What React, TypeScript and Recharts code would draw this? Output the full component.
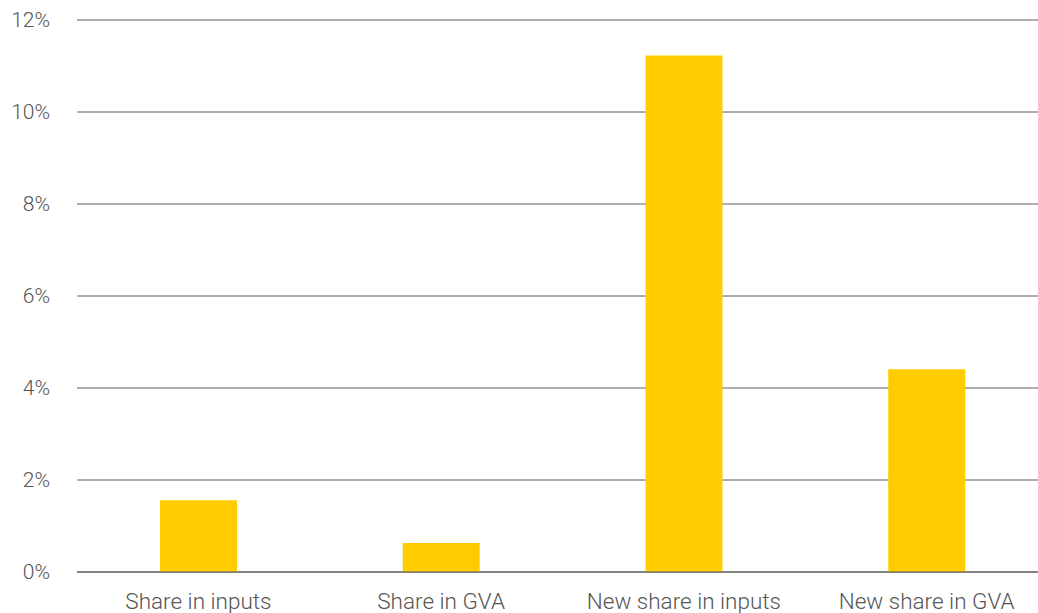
import { BarChart, Bar, CartesianGrid, XAxis, YAxis, ReferenceLine } from "recharts";

const categories = ["Share in inputs", "Share in GVA", "New share in inputs", "New share in GVA"];
const shares = [1.56, 0.63, 11.23, 4.41];
const yTicks = [0, 2, 4, 6, 8, 10, 12];

const data = categories.map((name, i) => ({ name, share: shares[i] }));

const font = { fontFamily: "Roboto", fontWeight: 300, fontSize: 21, fill: "#555" };

const App = () => {
  return (
    <div
      style={{
        position: "fixed",
        top: 0,
        left: 0,
        width: 1038,
        height: 613,
        overflow: "hidden",
        background: "#fff",
      }}
    >
      <BarChart
        width={1048}
        height={613}
        data={data}
        margin={{ top: 20, right: 0, bottom: 0, left: 0 }}
        barCategoryGap={83}
      >
        <CartesianGrid vertical={false} stroke="#5f5f5f" strokeWidth={1} />
        <XAxis
          dataKey="name"
          height={41}
          axisLine={false}
          tickLine={false}
          tickSize={0}
          tickMargin={21}
          tick={{ ...font, fontSize: 22.5 }}
          interval={0}
        />
        <YAxis
          width={77}
          domain={[0, 12]}
          ticks={yTicks}
          tickFormatter={(v: number) => `${v}%`}
          axisLine={false}
          tickLine={false}
          tickSize={0}
          tickMargin={27}
          tick={font}
        />
        <Bar dataKey="share" fill="#ffcc00" isAnimationActive={false} />
        <ReferenceLine y={0} stroke="rgba(100,100,100,0.6)" strokeWidth={2} />
      </BarChart>
    </div>
  );
};

export default App;
